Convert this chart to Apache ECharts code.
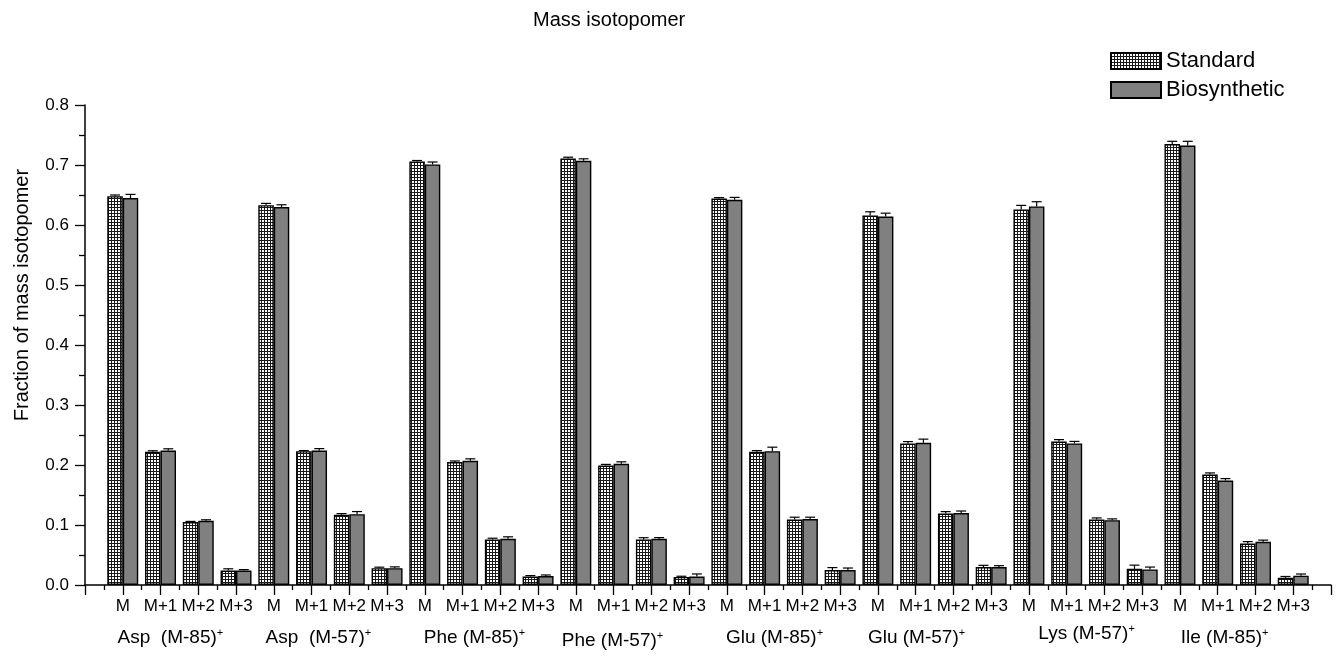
<!DOCTYPE html>
<html>
<head>
<meta charset="utf-8">
<script src="https://cdn.jsdelivr.net/npm/echarts@6/dist/echarts.min.js"></script>
<style>
html,body{margin:0;padding:0;background:#fff;}
#chart{width:1343px;height:659px;}
</style>
</head>
<body>
<div id="chart"></div>
<script>
// ---------- data ----------
const isotopomers = ['M', 'M+1', 'M+2', 'M+3'];
const groups = ['Asp  (M-85)', 'Asp  (M-57)', 'Phe (M-85)', 'Phe (M-57)', 'Glu (M-85)', 'Glu (M-57)', 'Lys (M-57)', 'Ile (M-85)'];
const standard = [
  0.648, 0.222, 0.105, 0.024,
  0.633, 0.223, 0.117, 0.028,
  0.706, 0.205, 0.076, 0.014,
  0.711, 0.199, 0.076, 0.0135,
  0.644, 0.222, 0.109, 0.025,
  0.616, 0.236, 0.119, 0.030,
  0.626, 0.239, 0.109, 0.027,
  0.735, 0.184, 0.069, 0.012
];
const biosynthetic = [
  0.645, 0.224, 0.107, 0.024,
  0.630, 0.224, 0.118, 0.028,
  0.701, 0.207, 0.077, 0.015,
  0.707, 0.202, 0.077, 0.014,
  0.642, 0.223, 0.110, 0.025,
  0.614, 0.237, 0.120, 0.030,
  0.631, 0.236, 0.108, 0.026,
  0.7325, 0.174, 0.072, 0.0155
];
const standardErr = [
  0.002, 0.0017, 0.001, 0.003,
  0.003, 0.001, 0.002, 0.0017,
  0.0015, 0.0017, 0.002, 0.0017,
  0.002, 0.002, 0.0028, 0.0011,
  0.0017, 0.002, 0.004, 0.004,
  0.006, 0.003, 0.0033, 0.0028,
  0.0067, 0.0033, 0.0028, 0.0061,
  0.0045, 0.0028, 0.0033, 0.0022
];
const biosyntheticErr = [
  0.006, 0.003, 0.0017, 0.0017,
  0.0037, 0.0033, 0.0044, 0.0022,
  0.004, 0.0033, 0.0033, 0.0017,
  0.0033, 0.0033, 0.002, 0.0044,
  0.004, 0.0067, 0.003, 0.0033,
  0.0057, 0.0061, 0.0033, 0.0022,
  0.0078, 0.0033, 0.0022, 0.0039,
  0.007, 0.0033, 0.0028, 0.0028
];
const yTicks = ['0.0', '0.1', '0.2', '0.3', '0.4', '0.5', '0.6', '0.7', '0.8'];

// ---------- layout tweaks (not data) ----------
const groupLabelNudgePx = [-9, -12, -7, -20, -9, -18, 1, -12];
const groupLabelNudgeY = [0, 0, 0, 3, 0, 0, -4, 0];

const FONT = '"Liberation Sans", Arial, Helvetica, sans-serif';

// categories with empty padding at both ends (axis runs 0..33)
const categories = [''];
groups.forEach(() => isotopomers.forEach(m => categories.push(m)));
categories.push('');
const pad = arr => [null].concat(arr).concat([null]);
const minorCats = [];
for (let i = 0; i < categories.length - 1; i++) minorCats.push('m' + i);

// hatch pattern for Standard bars
const pc = document.createElement('canvas');
pc.width = 3; pc.height = 3;
const px = pc.getContext('2d');
px.fillStyle = '#fff'; px.fillRect(0, 0, 3, 3);
px.fillStyle = '#1a1a1a'; px.fillRect(0, 0, 3, 1); px.fillRect(0, 0, 1, 3);
const hatch = { image: pc, repeat: 'repeat' };

function errData(vals, errs) {
  return vals.map((v, i) => [i + 1, v, errs[i]]);
}
function errRender(side) {
  return function (params, api) {
    const idx = api.value(0), v = api.value(1), e = api.value(2);
    const band = api.size([1, 0])[0];
    const p0 = api.coord([idx, v]);
    const p1 = api.coord([idx, v + e]);
    const x = p0[0] + side * band * 0.205;
    const cap = 5;
    return {
      type: 'group',
      children: [
        { type: 'line', shape: { x1: x, y1: p0[1], x2: x, y2: p1[1] }, style: { stroke: '#000', lineWidth: 1.2 } },
        { type: 'line', shape: { x1: x - cap, y1: p1[1], x2: x + cap, y2: p1[1] }, style: { stroke: '#000', lineWidth: 1.2 } }
      ]
    };
  };
}

const chart = echarts.init(document.getElementById('chart'), null, { renderer: 'canvas' });
const option = {
  animation: false,
  backgroundColor: '#fff',
  textStyle: { fontFamily: FONT, color: '#000' },
  title: {
    text: 'Mass isotopomer',
    left: 528, top: 5,
    textStyle: { fontFamily: FONT, fontSize: 20, fontWeight: 'normal', color: '#000' }
  },
  legend: {
    orient: 'vertical',
    left: 1105, top: 45,
    itemWidth: 50, itemHeight: 16, itemGap: 7,
    icon: 'rect',
    textStyle: { fontFamily: FONT, fontSize: 22, color: '#000' },
    data: ['Standard', 'Biosynthetic']
  },
  grid: { left: 85, right: 12, top: 105, bottom: 74, containLabel: false, outerBoundsMode: 'none' },
  xAxis: [
    {
      type: 'category',
      data: categories,
      boundaryGap: false,
      position: 'bottom',
      axisLine: { show: true, lineStyle: { color: '#000', width: 1.5 } },
      axisTick: { show: true, interval: 0, length: 10, inside: false, lineStyle: { color: '#000', width: 1.3 } },
      axisLabel: { interval: 0, margin: 13, fontFamily: FONT, fontSize: 17, color: '#000' },
      splitLine: { show: false }
    },
    {
      type: 'category',
      data: minorCats,
      boundaryGap: true,
      position: 'bottom',
      axisLine: { show: false },
      axisTick: { show: true, interval: 0, alignWithLabel: true, length: 5, inside: false, lineStyle: { color: '#000', width: 1.3 } },
      axisLabel: { show: false },
      splitLine: { show: false }
    }
  ],
  yAxis: {
    type: 'value',
    min: 0, max: 0.8, interval: 0.1,
    axisLine: { show: true, lineStyle: { color: '#000', width: 1.5 } },
    axisTick: { show: true, length: 10, inside: false, lineStyle: { color: '#000', width: 1.3 } },
    minorTick: { show: true, splitNumber: 2, length: 6, lineStyle: { color: '#000', width: 1.3 } },
    axisLabel: {
      margin: 16, fontFamily: FONT, fontSize: 17, color: '#000',
      formatter: v => yTicks[Math.round(v * 10)]
    },
    splitLine: { show: false }
  },
  series: [
    {
      name: 'Standard', type: 'bar', xAxisIndex: 0,
      data: pad(standard),
      barWidth: '41%', barGap: '0%',
      itemStyle: { color: hatch, borderColor: '#000', borderWidth: 1.4 }
    },
    {
      name: 'Biosynthetic', type: 'bar', xAxisIndex: 0,
      data: pad(biosynthetic),
      barWidth: '41%', barGap: '0%',
      itemStyle: { color: '#808080', borderColor: '#000', borderWidth: 1.4 }
    },
    {
      type: 'custom', xAxisIndex: 0, z: 5, clip: false,
      renderItem: errRender(-1),
      encode: { x: 0, y: 1 },
      data: errData(standard, standardErr)
    },
    {
      type: 'custom', xAxisIndex: 0, z: 5, clip: false,
      renderItem: errRender(1),
      encode: { x: 0, y: 1 },
      data: errData(biosynthetic, biosyntheticErr)
    }
  ]
};
chart.setOption(option);

// group labels & y-axis name, positioned through the axis
const c1 = chart.convertToPixel({ xAxisIndex: 0 }, 1);
const c2 = chart.convertToPixel({ xAxisIndex: 0 }, 2);
const step = c2 - c1;
const yMid = (chart.convertToPixel({ yAxisIndex: 0 }, 0) + chart.convertToPixel({ yAxisIndex: 0 }, 0.8)) / 2;
const y0 = chart.convertToPixel({ yAxisIndex: 0 }, 0);
const graphics = groups.map((g, i) => ({
  type: 'text',
  x: c1 + (2.5 + 4 * i - 1) * step + groupLabelNudgePx[i],
  y: y0 + 52 + groupLabelNudgeY[i],
  style: {
    text: '{b|' + g + '}{s|+}',
    align: 'center',
    verticalAlign: 'middle',
    rich: {
      b: { fontFamily: FONT, fontSize: 19, color: '#000', lineHeight: 20, verticalAlign: 'bottom' },
      s: { fontFamily: FONT, fontSize: 11, color: '#000', lineHeight: 20, verticalAlign: 'top' }
    }
  }
}));
graphics.push({
  type: 'text',
  x: 22, y: yMid - 50,
  rotation: Math.PI / 2,
  style: {
    text: 'Fraction of mass isotopomer',
    fontFamily: FONT, fontSize: 20, fill: '#000',
    align: 'center', verticalAlign: 'middle'
  }
});
chart.setOption({ graphic: graphics });
</script>
</body>
</html>
